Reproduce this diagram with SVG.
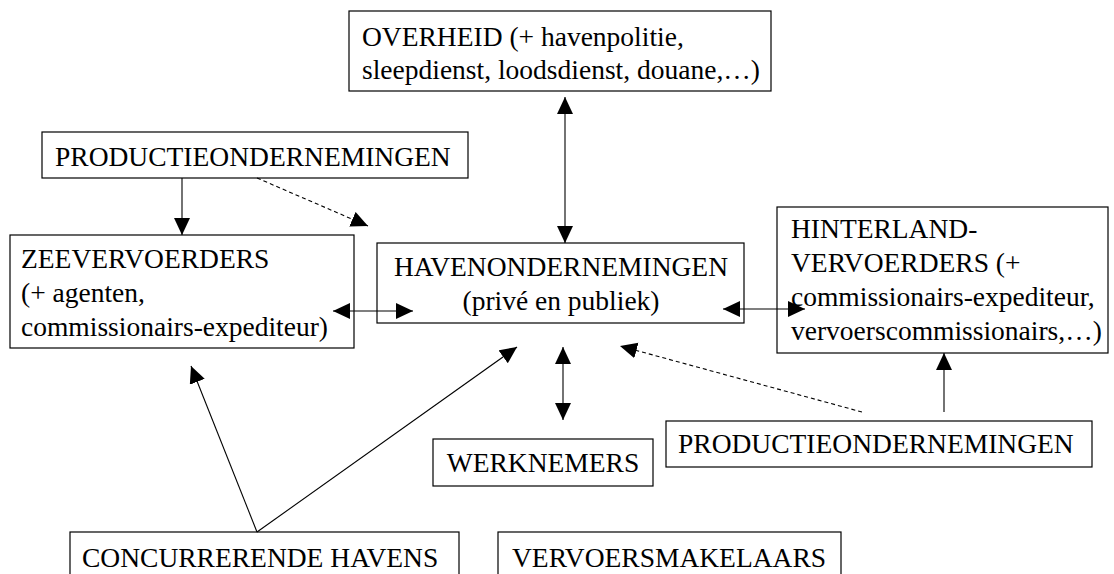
<svg xmlns="http://www.w3.org/2000/svg" width="1114" height="574" viewBox="0 0 1114 574">
<style>
.box{fill:#fff;stroke:#000;stroke-width:1.2}
.t{font-family:"Liberation Serif","Times New Roman",serif;font-size:27.5px;fill:#000}
.c{text-anchor:middle}
.ln{stroke:#000;stroke-width:1.1;fill:none}
.d{stroke-dasharray:4 3}
</style>
<defs>
<marker id="ah" markerUnits="userSpaceOnUse" markerWidth="18" markerHeight="17" refX="17" refY="8" orient="auto-start-reverse">
<path d="M0,0 L17,8 L0,16 z" fill="#000"/>
</marker>
</defs>
<rect width="1114" height="574" fill="#fff"/>
<g id="overheid">
<rect class="box" x="349" y="11" width="422" height="80"/>
<text class="t" x="362" y="46">OVERHEID (+ havenpolitie,</text>
<text class="t" x="362" y="79">sleepdienst, loodsdienst, douane,…)</text>
</g>
<g id="productie-top">
<rect class="box" x="42" y="132" width="426" height="46"/>
<text class="t" x="55" y="166">PRODUCTIEONDERNEMINGEN</text>
</g>
<g id="zeevervoerders">
<rect class="box" x="10" y="235" width="344" height="113"/>
<text class="t" x="21" y="268">ZEEVERVOERDERS</text>
<text class="t" x="21" y="302">(+ agenten,</text>
<text class="t" x="21" y="336">commissionairs-expediteur)</text>
</g>
<g id="havenondernemingen">
<rect class="box" x="377" y="243" width="367" height="80"/>
<text class="t c" x="561" y="276">HAVENONDERNEMINGEN</text>
<text class="t c" x="561" y="310">(privé en publiek)</text>
</g>
<g id="hinterland">
<rect class="box" x="777" y="207" width="331" height="146"/>
<text class="t" x="791" y="238">HINTERLAND-</text>
<text class="t" x="791" y="272">VERVOERDERS (+</text>
<text class="t" x="791" y="306">commissionairs-expediteur,</text>
<text class="t" x="791" y="340">vervoerscommissionairs,…)</text>
</g>
<g id="productie-bottom">
<rect class="box" x="666" y="421" width="426" height="46"/>
<text class="t" x="678" y="453">PRODUCTIEONDERNEMINGEN</text>
</g>
<g id="werknemers">
<rect class="box" x="433" y="439" width="220" height="47"/>
<text class="t c" x="543" y="472">WERKNEMERS</text>
</g>
<g id="concurrerende">
<rect class="box" x="70" y="532" width="389" height="50"/>
<text class="t" x="82" y="567">CONCURRERENDE HAVENS</text>
</g>
<g id="vervoersmakelaars">
<rect class="box" x="498" y="532" width="343" height="50"/>
<text class="t" x="512" y="567">VERVOERSMAKELAARS</text>
</g>
<g id="connectors">
<line class="ln" x1="565" y1="97" x2="565" y2="243" marker-start="url(#ah)" marker-end="url(#ah)"/>
<line class="ln" x1="182" y1="178" x2="182" y2="235" marker-end="url(#ah)"/>
<line class="ln d" x1="257" y1="178" x2="368" y2="226" marker-end="url(#ah)"/>
<line class="ln" x1="333" y1="311" x2="413" y2="311" marker-start="url(#ah)" marker-end="url(#ah)"/>
<line class="ln" x1="723" y1="309" x2="805" y2="309" marker-start="url(#ah)" marker-end="url(#ah)"/>
<line class="ln" x1="563" y1="347" x2="563" y2="420" marker-start="url(#ah)" marker-end="url(#ah)"/>
<line class="ln d" x1="862" y1="412" x2="620" y2="346" marker-end="url(#ah)"/>
<line class="ln" x1="944" y1="412" x2="944" y2="353" marker-end="url(#ah)"/>
<line class="ln" x1="257" y1="532" x2="191" y2="366" marker-end="url(#ah)"/>
<line class="ln" x1="257" y1="532" x2="517" y2="347" marker-end="url(#ah)"/>
</g>
</svg>
